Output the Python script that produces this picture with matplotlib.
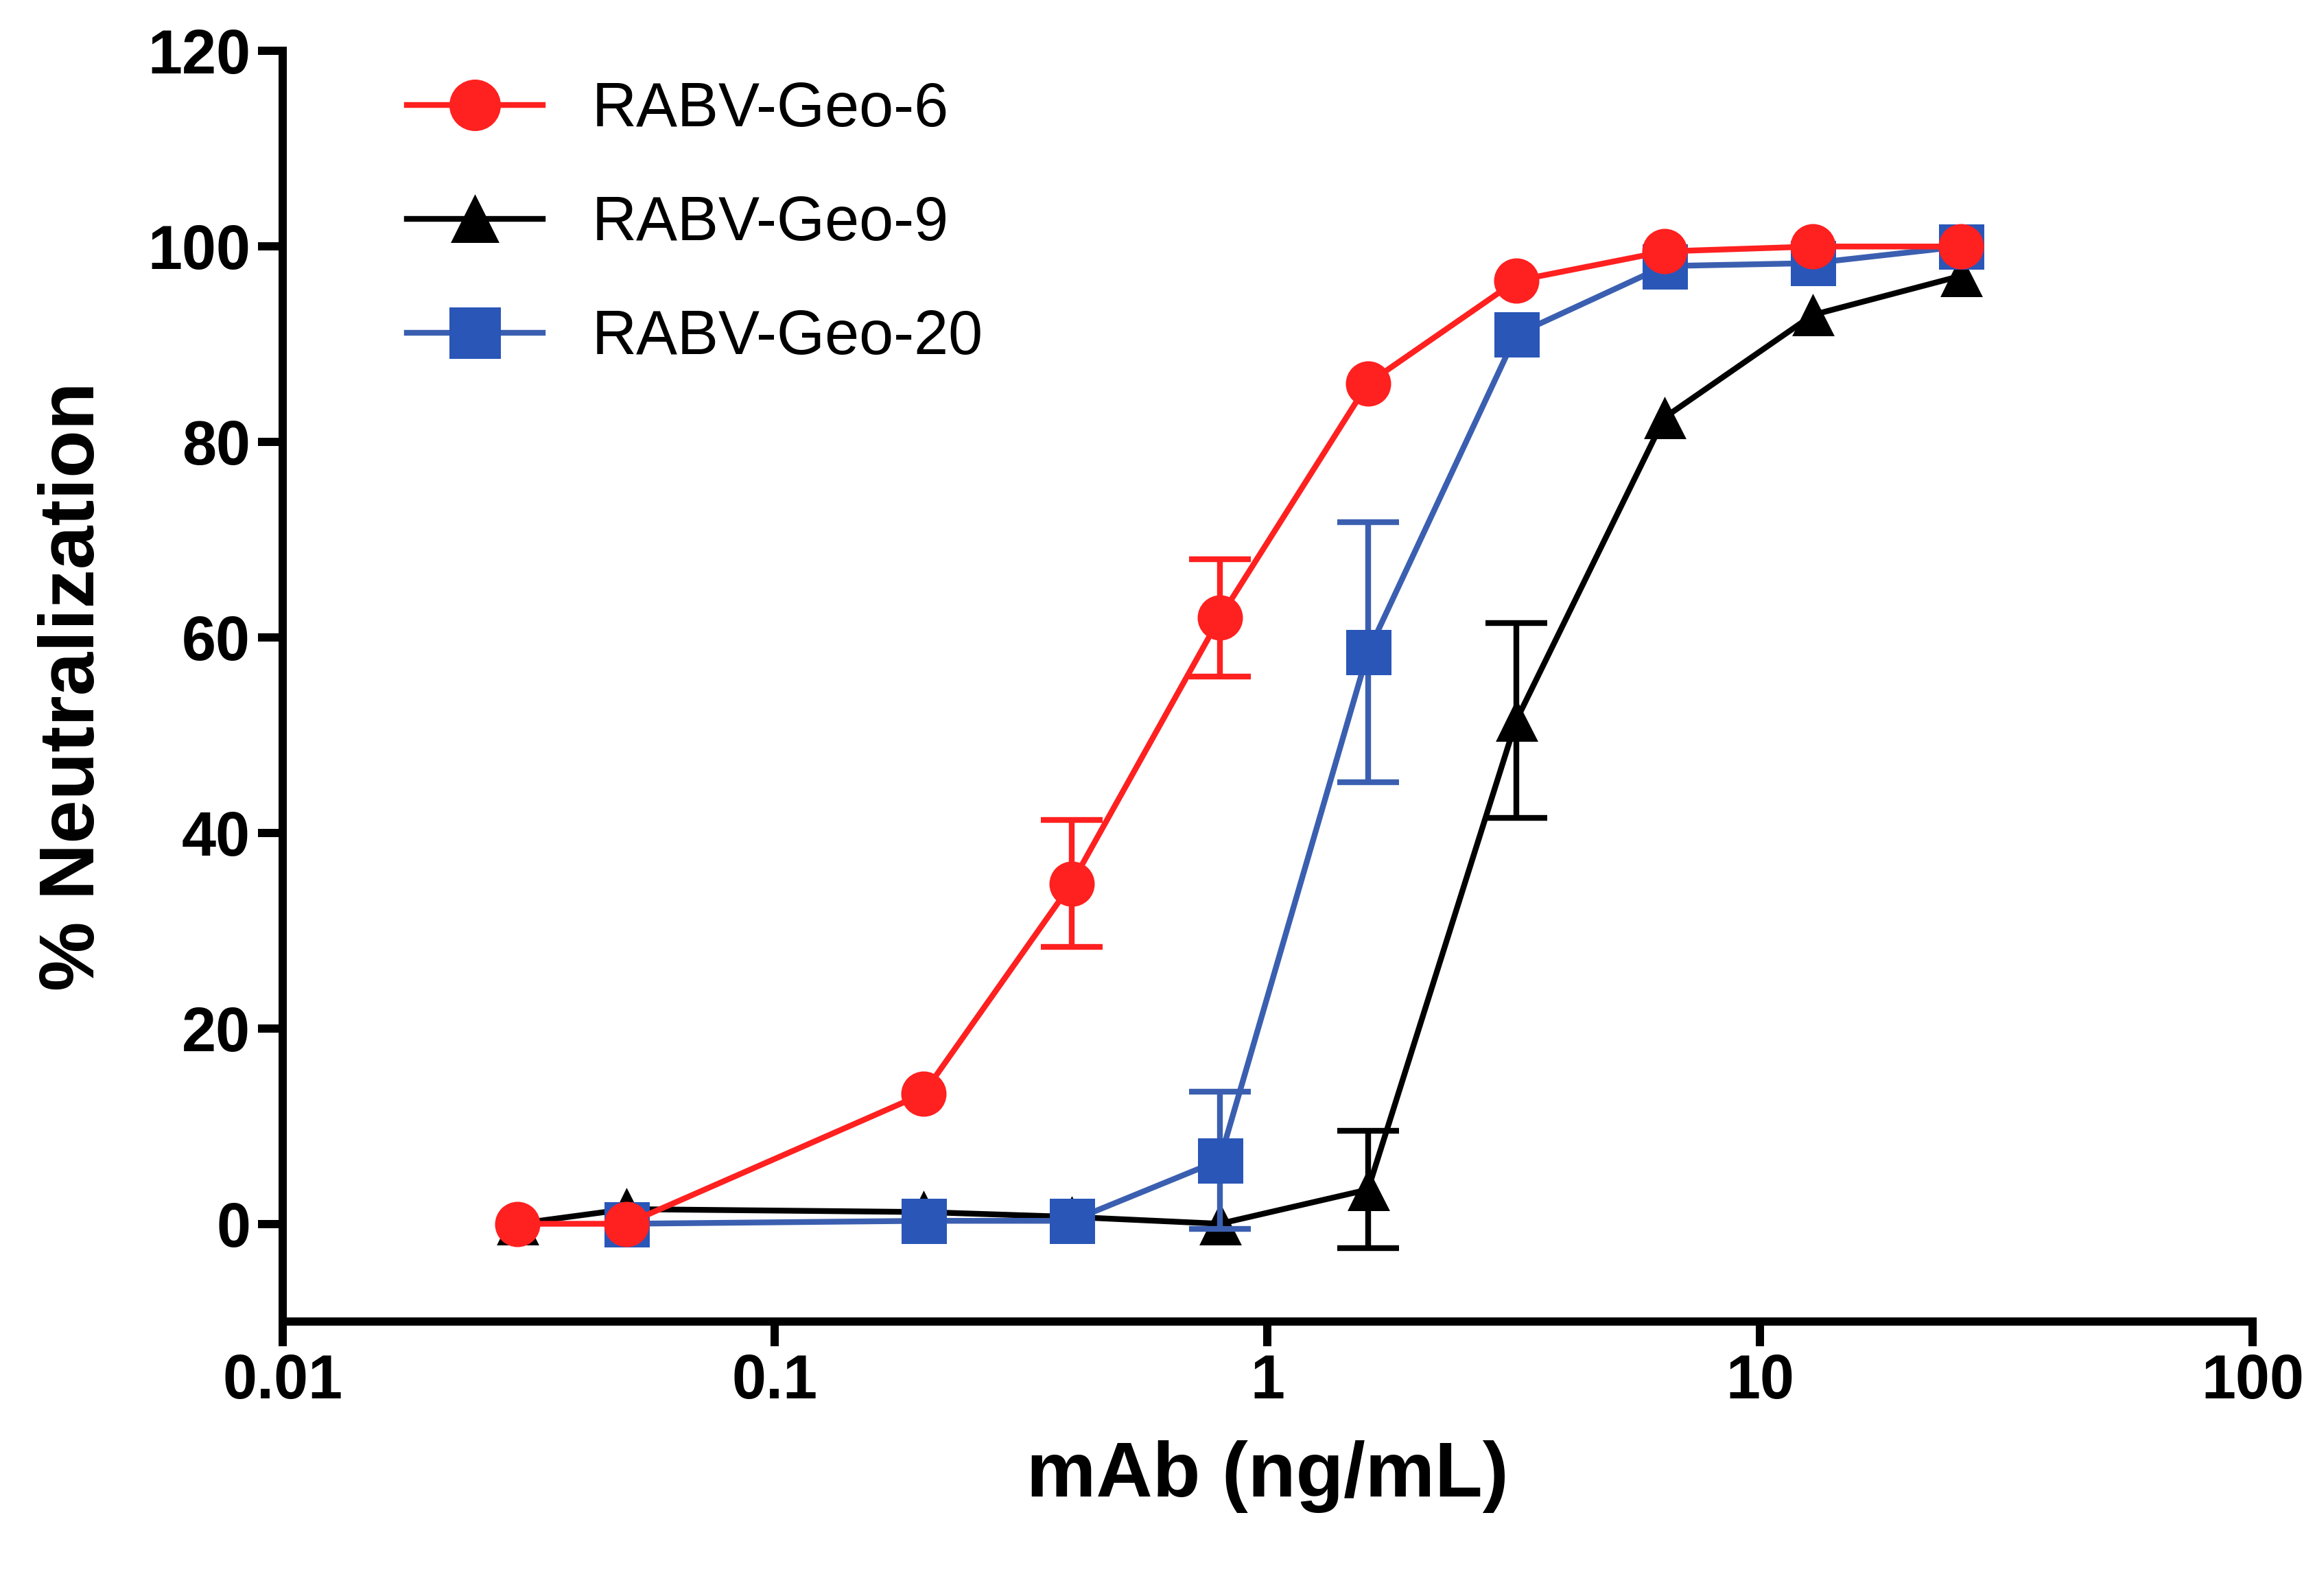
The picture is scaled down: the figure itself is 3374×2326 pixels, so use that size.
import matplotlib
matplotlib.use("Agg")
import matplotlib.pyplot as plt
import numpy as np
from matplotlib.lines import Line2D

x_red = [0.03, 0.05, 0.2, 0.4, 0.8, 1.6, 3.2, 6.4, 12.8, 25.6]
y_red = [0, 0, 13.3, 34.8, 62, 86, 96.5, 99.5, 100, 100]
e_red = [0, 0, 0, 6.5, 6, 0, 0, 0, 0, 0]
x_blk = [0.03, 0.05, 0.2, 0.4, 0.8, 1.6, 3.2, 6.4, 12.8, 25.6]
y_blk = [0, 1.5, 1.2, 0.7, 0, 3.5, 51.5, 82.5, 93, 97]
e_blk = [0, 0, 0, 0, 0, 6, 10, 0, 0, 0]
x_blu = [0.05, 0.2, 0.4, 0.8, 1.6, 3.2, 6.4, 12.8, 25.6]
y_blu = [0, 0.3, 0.3, 6.5, 58.5, 91, 98, 98.3, 100]
e_blu = [0, 0, 0, 7, 13.3, 0, 0, 0, 0]

plt.rcParams['font.family'] = 'Liberation Sans'
fig = plt.figure(figsize=(3374/216, 2326/216), dpi=216)
ax = fig.add_axes([0.122, 0.172, 0.851, 0.796])

def draw(x, y, e, color, mcol, marker, ms, z):
    x = np.array(x); y = np.array(y); e = np.array(e, float)
    ax.plot(x, y, color=color, lw=2.8, marker=marker, ms=ms, mfc=mcol, mec=mcol, zorder=z)
    m = e > 0
    ax.errorbar(x[m], y[m], yerr=e[m], fmt='none', ecolor=color, elinewidth=2.8,
                capsize=15, capthick=2.8, zorder=z - 0.5)

draw(x_blk, y_blk, e_blk, 'black', 'black', '^', 19, 2)
draw(x_blu, y_blu, e_blu, '#3b5fb0', '#2a56b8', 's', 21, 3)
draw(x_red, y_red, e_red, '#ff2020', '#ff2020', 'o', 21, 4)

ax.set_xscale('log')
ax.set_xlim(0.01, 100)
ax.set_ylim(-10, 120)
ax.set_yticks(range(0, 121, 20))
ax.set_xticks([0.01, 0.1, 1, 10, 100])
ax.set_xticklabels(['0.01', '0.1', '1', '10', '100'])
ax.minorticks_off()
for s in ['top', 'right']:
    ax.spines[s].set_visible(False)
for s in ['left', 'bottom']:
    ax.spines[s].set_linewidth(4)
ax.tick_params(width=4, length=12, labelsize=30)
for t in ax.get_xticklabels() + ax.get_yticklabels():
    t.set_fontweight('bold')
ax.set_xlabel('mAb (ng/mL)', fontsize=38, fontweight='bold', labelpad=14)
ax.set_ylabel('% Neutralization', fontsize=38, fontweight='bold', labelpad=18)

handles = [Line2D([], [], color='#ff2020', lw=2.8, marker='o', ms=24),
           Line2D([], [], color='black', lw=2.8, marker='^', ms=22),
           Line2D([], [], color='#3b5fb0', mfc='#2a56b8', mec='#2a56b8', lw=2.8, marker='s', ms=24)]
ax.legend(handles, ['RABV-Geo-6', 'RABV-Geo-9', 'RABV-Geo-20'], loc='upper left',
          bbox_to_anchor=(0.035, 1.02), frameon=False, fontsize=30, handlelength=2.2,
          labelspacing=0.9, handletextpad=0.8)
fig.savefig('out.png', dpi=216)
